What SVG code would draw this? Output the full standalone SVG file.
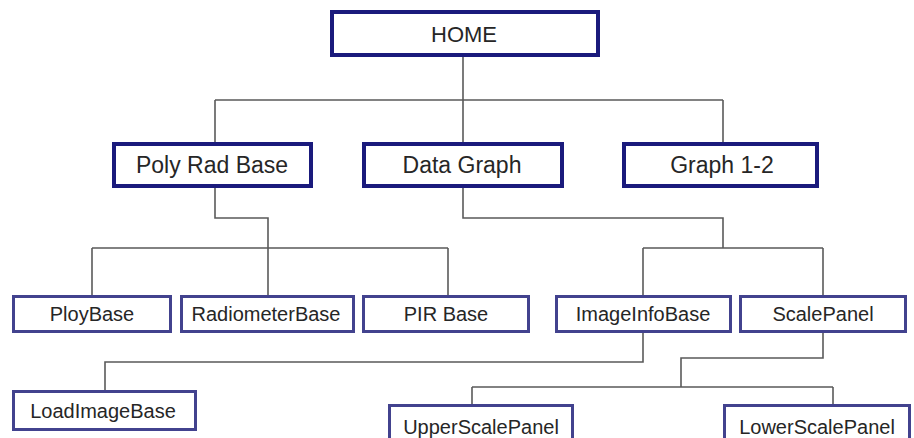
<svg xmlns="http://www.w3.org/2000/svg" width="914" height="438" viewBox="0 0 914 438">
<style>
.b1{fill:#fff;stroke:#1a1a7c;stroke-width:4}
.b2{fill:#fff;stroke:#42428e;stroke-width:3}
.t0{font-family:"Liberation Sans",Arial,sans-serif;font-size:22px;fill:#262626;text-anchor:middle}
.t1{font-family:"Liberation Sans",Arial,sans-serif;font-size:23px;fill:#262626;text-anchor:middle}
.t2{font-family:"Liberation Sans",Arial,sans-serif;font-size:20px;fill:#262626;text-anchor:middle}
.c{fill:none;stroke:#5a5a5a;stroke-width:1.6}
</style>
<rect width="914" height="438" fill="#fff"/>
<g id="connectors" class="c">
<path d="M463 57V100M215 100H723M215 100V142M463 100V142M723 100V142"/>
<path d="M215 188V218H268V295M92 248H448M92 248V295M448 248V295"/>
<path d="M463 188V218H723V248M643 248H823M643 248V295M823 248V295"/>
<path d="M643 333V362H105V390"/>
<path d="M823 333V358H681V387M472 387H833M472 387V404M833 387V404"/>
</g>
<g id="home"><rect class="b1" x="332" y="12" width="266" height="43"/><text class="t0" x="464" y="42">HOME</text></g>
<g id="polyradbase"><rect class="b1" x="114" y="144" width="197" height="42"/><text class="t1" x="212" y="173">Poly Rad Base</text></g>
<g id="datagraph"><rect class="b1" x="364" y="144" width="198" height="42"/><text class="t1" x="462" y="173">Data Graph</text></g>
<g id="graph12"><rect class="b1" x="624" y="144" width="193" height="42"/><text class="t1" x="722" y="173">Graph 1-2</text></g>
<g id="ploybase"><rect class="b2" x="13.5" y="296.5" width="157" height="35"/><text class="t2" x="92" y="321">PloyBase</text></g>
<g id="radiometerbase"><rect class="b2" x="181.5" y="296.5" width="172" height="35"/><text class="t2" x="266" y="321">RadiometerBase</text></g>
<g id="pirbase"><rect class="b2" x="363.5" y="296.5" width="165" height="35"/><text class="t2" x="446" y="321">PIR Base</text></g>
<g id="imageinfobase"><rect class="b2" x="556.5" y="296.5" width="174" height="35"/><text class="t2" x="643" y="321">ImageInfoBase</text></g>
<g id="scalepanel"><rect class="b2" x="740.5" y="296.5" width="165" height="35"/><text class="t2" x="823" y="321">ScalePanel</text></g>
<g id="loadimagebase"><rect class="b2" x="13.5" y="391.5" width="182" height="38"/><text class="t2" x="103" y="418">LoadImageBase</text></g>
<g id="upperscalepanel"><rect class="b2" x="389.5" y="405.5" width="183" height="40"/><text class="t2" x="481" y="434">UpperScalePanel</text></g>
<g id="lowerscalepanel"><rect class="b2" x="724.5" y="405.5" width="185" height="40"/><text class="t2" x="817" y="434">LowerScalePanel</text></g>
</svg>
